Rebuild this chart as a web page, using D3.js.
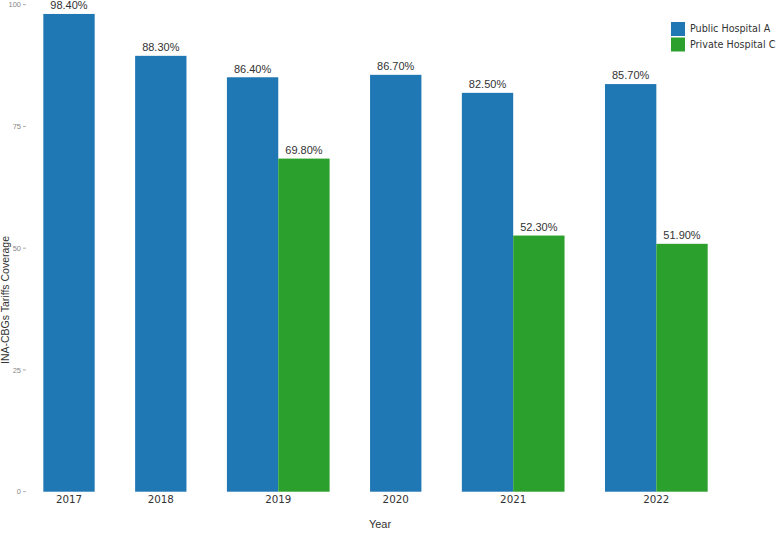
<!DOCTYPE html>
<html>
<head>
<meta charset="utf-8">
<script src="https://cdn.jsdelivr.net/npm/d3@7"></script>
<style>
  body { margin: 0; background: #fff; }
  svg { display: block; }
</style>
</head>
<body>
<svg width="778" height="533"></svg>
<script>
// data
let years = ["2017", "2018", "2019", "2020", "2021", "2022"];
let publicA = [98.1, 89.5, 85.1, 85.6, 81.9, 83.7];
let privateC = [null, null, 68.4, null, 52.6, 50.9];
let publicLabels = ["98.40%", "88.30%", "86.40%", "86.70%", "82.50%", "85.70%"];
let privateLabels = [null, null, "69.80%", null, "52.30%", "51.90%"];
let seriesNames = ["Public Hospital A", "Private Hospital C"];
let yTicks = [0, 25, 50, 75, 100];

let colors = ["#1f77b4", "#2ca02c"];

let svg = d3.select("svg");

// build bar list, groups packed side by side with a gap between years
let gap = 0.788;
let bars = [];
let groups = [];
let pos = 0;
years.forEach(function (yr, i) {
    let start = pos;
    let vals = [publicA[i], privateC[i]];
    let labs = [publicLabels[i], privateLabels[i]];
    vals.forEach(function (v, s) {
        if (v != null) {
            bars.push({ year: yr, series: s, value: v, label: labs[s], x0: pos });
            pos += 1;
        }
    });
    groups.push({ year: yr, mid: (start + pos) / 2 });
    pos += gap;
});
let totalUnits = pos - gap;

let x = d3.scaleLinear()
    .domain([-gap / 2, totalUnits + gap / 2])
    .range([23.1, 727.9]);

let y = d3.scaleLinear()
    .domain([0, 100])
    .range([491.7, 4.7]);

// bars
svg.append("g")
    .selectAll("rect")
    .data(bars)
    .join("rect")
    .attr("x", d => x(d.x0))
    .attr("width", d => x(d.x0 + 1) - x(d.x0))
    .attr("y", d => y(d.value))
    .attr("height", d => y(0) - y(d.value))
    .style("fill", d => colors[d.series]);

// value labels
svg.append("g")
    .selectAll("text")
    .data(bars)
    .join("text")
    .attr("x", d => x(d.x0 + 0.5))
    .attr("y", d => y(d.value) - 4.7)
    .attr("text-anchor", "middle")
    .style("font-family", "'Liberation Sans', Arial, sans-serif")
    .style("font-size", "11px")
    .style("fill", "#333")
    .text(d => d.label);

// y axis (ticks only)
let yAxis = svg.append("g");
yAxis.selectAll("line")
    .data(yTicks)
    .join("line")
    .attr("x1", 23).attr("x2", 26)
    .attr("y1", d => y(d)).attr("y2", d => y(d))
    .style("stroke", "#999")
    .style("stroke-width", 0.8);
yAxis.selectAll("text")
    .data(yTicks)
    .join("text")
    .attr("x", 21)
    .attr("y", d => y(d))
    .attr("dy", "0.35em")
    .attr("text-anchor", "end")
    .style("font-family", "'Liberation Sans', Arial, sans-serif")
    .style("font-size", "7.5px")
    .style("fill", "#888")
    .text(d => d);

// x tick labels
svg.append("g")
    .selectAll("text")
    .data(groups)
    .join("text")
    .attr("x", d => x(d.mid))
    .attr("y", 503)
    .attr("text-anchor", "middle")
    .style("font-family", "'DejaVu Sans', sans-serif")
    .style("font-size", "10.3px")
    .style("fill", "#333")
    .text(d => d.year);

// axis titles
svg.append("text")
    .attr("x", 380)
    .attr("y", 528)
    .attr("text-anchor", "middle")
    .style("font-family", "'Liberation Sans', Arial, sans-serif")
    .style("font-size", "11px")
    .style("fill", "#333")
    .text("Year");

svg.append("text")
    .attr("transform", "translate(9," + 300 + ") rotate(-90)")
    .attr("text-anchor", "middle")
    .style("font-family", "'Liberation Sans', Arial, sans-serif")
    .style("font-size", "10.5px")
    .style("fill", "#333")
    .text("INA-CBGs Tariffs Coverage");

// legend
let legend = svg.append("g")
    .attr("transform", "translate(671,22)");
legend.selectAll("rect")
    .data(seriesNames)
    .join("rect")
    .attr("x", 0)
    .attr("y", (d, i) => i * 15.5)
    .attr("width", 14)
    .attr("height", 14)
    .style("fill", (d, i) => colors[i]);
legend.selectAll("text")
    .data(seriesNames)
    .join("text")
    .attr("x", 19)
    .attr("y", (d, i) => i * 15.5 + 7)
    .attr("dy", "0.35em")
    .style("font-family", "'DejaVu Sans', sans-serif")
    .style("font-size", "9.6px")
    .style("fill", "#333")
    .text(d => d);
</script>
</body>
</html>
